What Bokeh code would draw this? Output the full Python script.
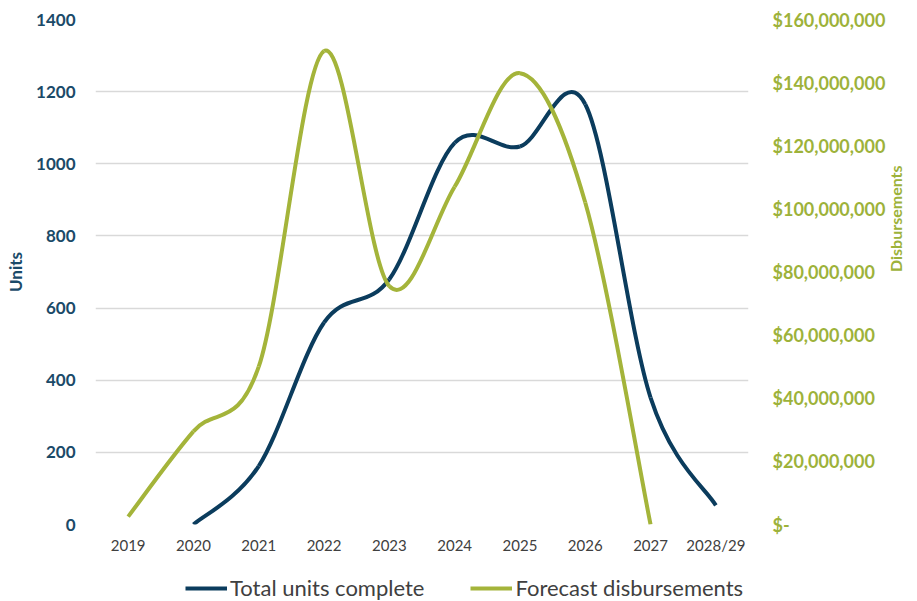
import numpy as np
from bokeh.plotting import figure
from bokeh.layouts import column
from bokeh.models import (Range1d, LinearAxis, FixedTicker, Legend, LegendItem,
                          NumeralTickFormatter, ColumnDataSource)
from bokeh.embed import file_html
from bokeh.resources import INLINE

years = ["2019", "2020", "2021", "2022", "2023", "2024", "2025", "2026", "2027", "2028/29"]
units = [None, 0, 162, 560, 680, 1058, 1048, 1165, 352, 53]
disbursements = [2.5e6, 29.5e6, 50e6, 150e6, 75.5e6, 107e6, 143e6, 102e6, 0, None]

unit_ticks = [0, 200, 400, 600, 800, 1000, 1200, 1400]
disb_ticks = [0, 20e6, 40e6, 60e6, 80e6, 100e6, 120e6, 140e6, 160e6]

NAVY = "#0B3C5D"
GREEN = "#A4B43A"
NAVY_TXT = "#1B4A68"
GREEN_TXT = "#9DB23A"
GRAY = "#404040"
FONT = "Lato"


def bezier_source(values):
    pts = [(float(i), float(v)) for i, v in enumerate(values) if v is not None]
    n = len(pts)
    d = dict(x0=[], y0=[], x1=[], y1=[], cx0=[], cy0=[], cx1=[], cy1=[])
    for i in range(n - 1):
        pm = pts[max(i - 1, 0)]
        p1 = pts[i]
        p2 = pts[i + 1]
        pp = pts[min(i + 2, n - 1)]
        d["x0"].append(p1[0]); d["y0"].append(p1[1])
        d["x1"].append(p2[0]); d["y1"].append(p2[1])
        d["cx0"].append(p1[0] + (p2[0] - pm[0]) / 6.0)
        d["cy0"].append(p1[1] + (p2[1] - pm[1]) / 6.0)
        d["cx1"].append(p2[0] - (pp[0] - p1[0]) / 6.0)
        d["cy1"].append(p2[1] - (pp[1] - p1[1]) / 6.0)
    return ColumnDataSource(d)


p = figure(width=917, height=560, output_backend="svg", toolbar_location=None,
           x_range=Range1d(-0.5, 9.5), y_range=Range1d(0, 1400),
           min_border_left=95, min_border_right=169, min_border_top=19,
           min_border_bottom=36)
p.extra_y_ranges = {"disb": Range1d(0, 160e6)}
p.outline_line_color = None
p.background_fill_color = "white"
p.border_fill_color = "white"

# x axis
p.xaxis.ticker = FixedTicker(ticks=list(range(len(years))))
p.xaxis.major_label_overrides = {i: y for i, y in enumerate(years)}
p.xaxis.axis_line_color = None
p.xaxis.major_tick_line_color = None
p.xaxis.major_tick_out = 0
p.xaxis.major_tick_in = 0
p.xaxis.minor_tick_line_color = None
p.xaxis.major_label_text_font = FONT
p.xaxis.major_label_text_font_size = "15px"
p.xaxis.major_label_text_color = GRAY
p.xaxis.major_label_standoff = 11

# left axis
p.yaxis.ticker = FixedTicker(ticks=unit_ticks)
p.yaxis.axis_line_color = None
p.yaxis.major_tick_line_color = None
p.yaxis.major_tick_out = 0
p.yaxis.major_tick_in = 0
p.yaxis.minor_tick_line_color = None
p.yaxis.major_label_text_font = FONT
p.yaxis.major_label_text_font_size = "17px"
p.yaxis.major_label_text_font_style = "bold"
p.yaxis.major_label_text_color = NAVY_TXT
p.yaxis.major_label_standoff = 20
p.yaxis.axis_label = "Units"
p.yaxis.axis_label_text_font = FONT
p.yaxis.axis_label_text_font_size = "17px"
p.yaxis.axis_label_text_font_style = "bold"
p.yaxis.axis_label_text_color = NAVY_TXT
p.yaxis.axis_label_standoff = 7

# right axis
ra = LinearAxis(y_range_name="disb", ticker=FixedTicker(ticks=disb_ticks),
                formatter=NumeralTickFormatter(format="$0,0"))
ra.major_label_overrides = {0: "$-"}
ra.axis_line_color = None
ra.major_tick_line_color = None
ra.major_tick_out = 0
ra.major_tick_in = 0
ra.minor_tick_line_color = None
ra.major_label_text_font = FONT
ra.major_label_text_font_size = "18px"
ra.major_label_text_font_style = "bold"
ra.major_label_text_color = GREEN_TXT
ra.major_label_standoff = 24
ra.axis_label = "Disbursements"
ra.axis_label_text_font = FONT
ra.axis_label_text_font_size = "16px"
ra.axis_label_text_font_style = "bold"
ra.axis_label_text_color = GREEN_TXT
ra.axis_label_standoff = 7
ra.axis_label_orientation = np.pi / 2
p.add_layout(ra, "right")

p.xgrid.grid_line_color = None
p.ygrid.grid_line_color = "#D9D9D9"
p.ygrid.grid_line_width = 1.3

src_u = bezier_source(units)
src_d = bezier_source(disbursements)
p.bezier(x0="x0", y0="y0", x1="x1", y1="y1", cx0="cx0", cy0="cy0", cx1="cx1", cy1="cy1",
         source=src_u, line_color=NAVY, line_width=4)
p.bezier(x0="x0", y0="y0", x1="x1", y1="y1", cx0="cx0", cy0="cy0", cx1="cx1", cy1="cy1",
         source=src_d, line_color=GREEN, line_width=4, y_range_name="disb")

# legend strip (separate figure below the chart)
lg = figure(width=917, height=41, output_backend="svg", toolbar_location=None,
            x_range=Range1d(0, 1), y_range=Range1d(0, 1),
            min_border=0, min_border_left=0, min_border_right=0,
            min_border_top=0, min_border_bottom=0)
lg.axis.visible = False
lg.grid.visible = False
lg.outline_line_color = None
lg.border_fill_color = "white"
l1 = lg.line(x=[-10, -9], y=[-10, -10], line_color=NAVY, line_width=4)
l2 = lg.line(x=[-10, -9], y=[-10, -10], line_color=GREEN, line_width=4)
legend = Legend(items=[LegendItem(label="Total units complete", renderers=[l1]),
                       LegendItem(label="Forecast disbursements", renderers=[l2])],
                orientation="horizontal", location=(90, 0),
                label_text_font=FONT, label_text_font_size="22px", label_text_color=GRAY,
                glyph_width=42, glyph_height=22, spacing=46, border_line_color=None,
                background_fill_alpha=0, margin=0, padding=0, label_standoff=3,
                label_height=22)
lg.add_layout(legend, "center")

layout = column(p, lg, spacing=0)
open("out.html", "w").write(file_html(layout, INLINE))
